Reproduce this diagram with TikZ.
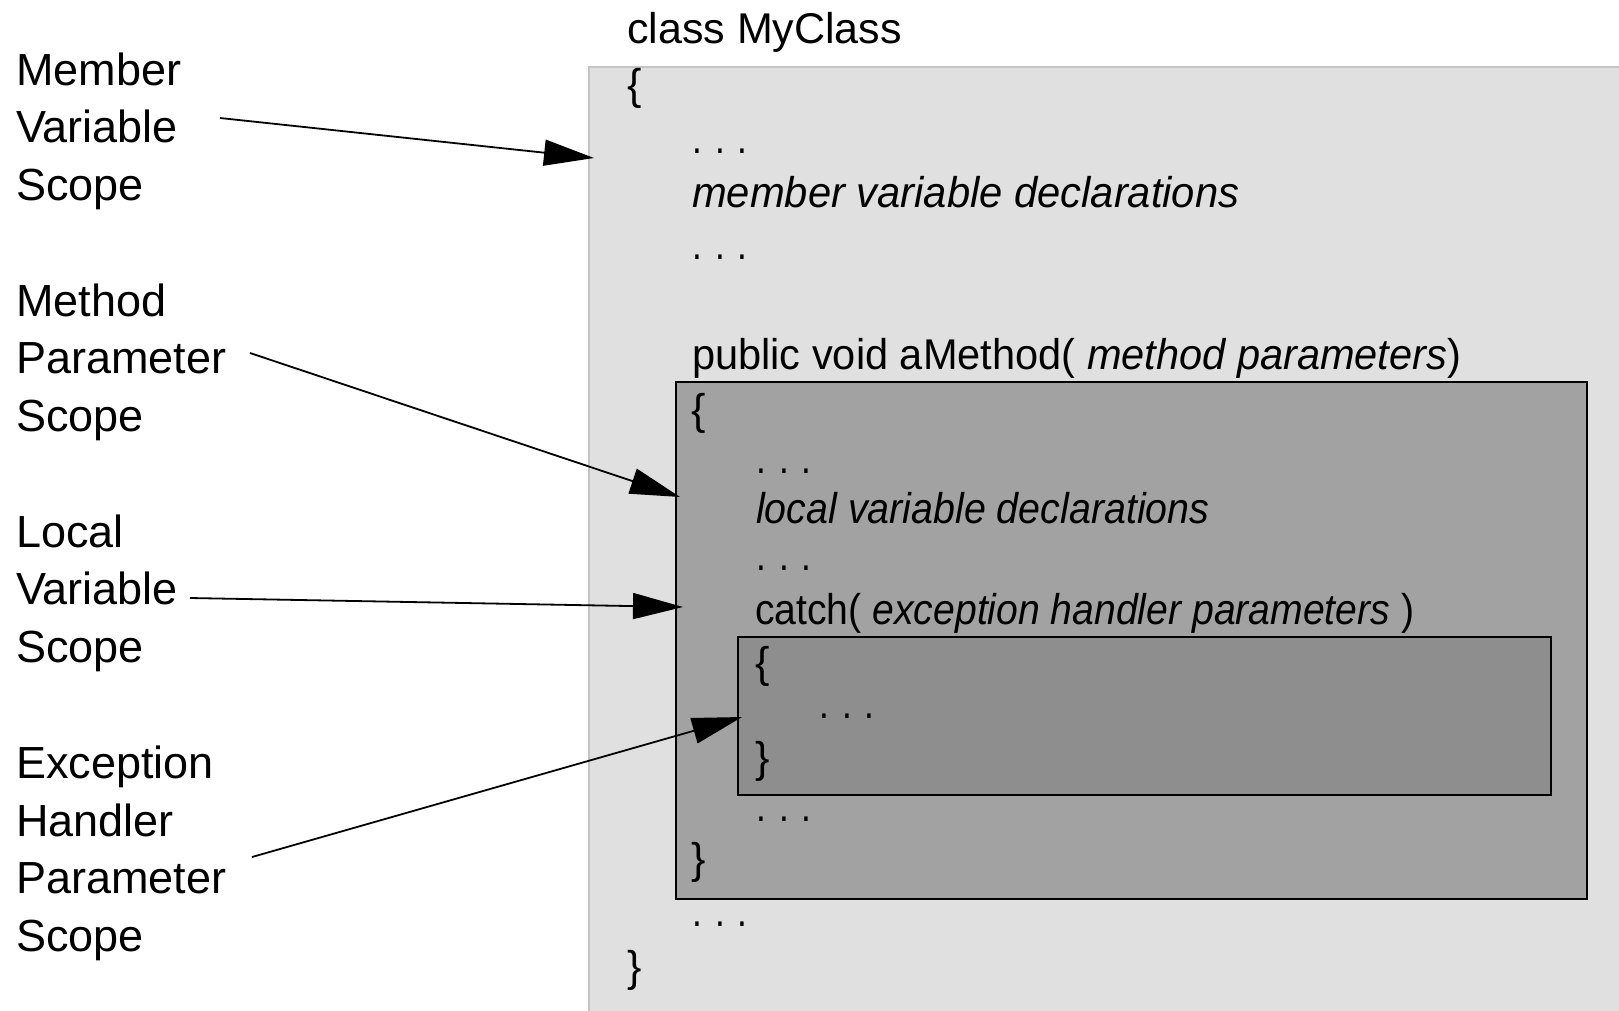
\documentclass[tikz,border=0pt]{standalone}
\usepackage{fontspec}
\setmainfont{Liberation Sans}
\usepackage{graphicx}
\usepackage{tikz}
\usetikzlibrary{arrows.meta,positioning}
\definecolor{classgray}{RGB}{224,224,224}
\definecolor{classedge}{RGB}{196,196,196}
\definecolor{methodgray}{RGB}{162,162,162}
\definecolor{catchgray}{RGB}{142,142,142}
\newcommand{\scopefont}{\fontsize{45}{57.5}\selectfont}
\newcommand{\codefont}{\fontsize{43}{55}\selectfont}
\newcommand{\codedots}{\scalebox{0.82}[1]{. . .}}

\begin{document}
\begin{tikzpicture}[
  x=1pt, y=-1pt,
  scopebox/.style={rectangle, draw=black, line width=2pt, anchor=north west, inner sep=0pt},
  code/.style={anchor=base west, inner sep=0pt, font=\codefont},
  label/.style={anchor=base west, inner sep=0pt, align=left, font=\scopefont},
  arrow/.style={-{Triangle[length=50pt,width=26pt]}, line width=1.8pt}
]
\useasboundingbox (0,0) rectangle (1619,1010);

% Scope boxes
\node[scopebox, draw=classedge, fill=classgray, minimum width=1045pt, minimum height=955pt] (classbox) at (588,66) {};
\node[scopebox, fill=methodgray, minimum width=911pt, minimum height=517pt] (methodbox) at (675,381) {};
\node[scopebox, fill=catchgray, minimum width=813pt, minimum height=158pt] (catchbox) at (737,636) {};

% Class code
\node[code] (classname) at (627,43) {class MyClass};
\node[code] (classopen) at (627,99) {\{};
\node[code] (dotsA) at (692,153) {\codedots};
\node[code] (memberdecl) at (692,207) {\scalebox{0.97}[1]{\textit{member variable declarations}}};
\node[code] (dotsB) at (692,259) {\codedots};
\node[code] (methodhead) at (692,369) {\scalebox{0.966}[1]{public void aMethod( \textit{method parameters})}};

% Method code
\node[code] (methodopen) at (691,424) {\{};
\node[code] (dotsC) at (756,473) {\codedots};
\node[code] (localdecl) at (756,523) {\scalebox{0.916}[1]{\textit{local variable declarations}}};
\node[code] (dotsD) at (756,570) {\codedots};
\node[code] (catchhead) at (755,624) {\scalebox{0.91}[1]{catch( \textit{exception handler parameters} )}};

% Catch code
\node[code] (catchopen) at (755,677) {\{};
\node[code] (dotsE) at (819,718) {\codedots};
\node[code] (catchclose) at (755,772) {\}};

\node[code] (dotsF) at (756,821) {\codedots};
\node[code] (methodclose) at (691,873) {\}};
\node[code] (dotsG) at (692,926) {\codedots};
\node[code] (classclose) at (627,981) {\}};

% Scope labels (base = last line)
\node[label] (memberlbl) at (16,200) {Member\\Variable\\Scope};
\node[label] (paramlbl) at (16,431) {Method\\Parameter\\Scope};
\node[label] (locallbl) at (16,662) {Local\\Variable\\Scope};
\node[label] (handlerlbl) at (16,951) {Exception\\Handler\\Parameter\\Scope};

% Arrow ends
\coordinate (memberfrom) at (220,118);
\coordinate (memberto) at (594,158);
\coordinate (paramfrom) at (250,353);
\coordinate (paramto) at (680,497);
\coordinate (localfrom) at (190,598);
\coordinate (localto) at (683,607);
\coordinate (handlerfrom) at (252,857);
\coordinate (handlerto) at (742,717);

\draw[arrow] (memberfrom) -- (memberto);
\draw[arrow] (paramfrom) -- (paramto);
\draw[arrow] (localfrom) -- (localto);
\draw[arrow] (handlerfrom) -- (handlerto);

\end{tikzpicture}
\end{document}
